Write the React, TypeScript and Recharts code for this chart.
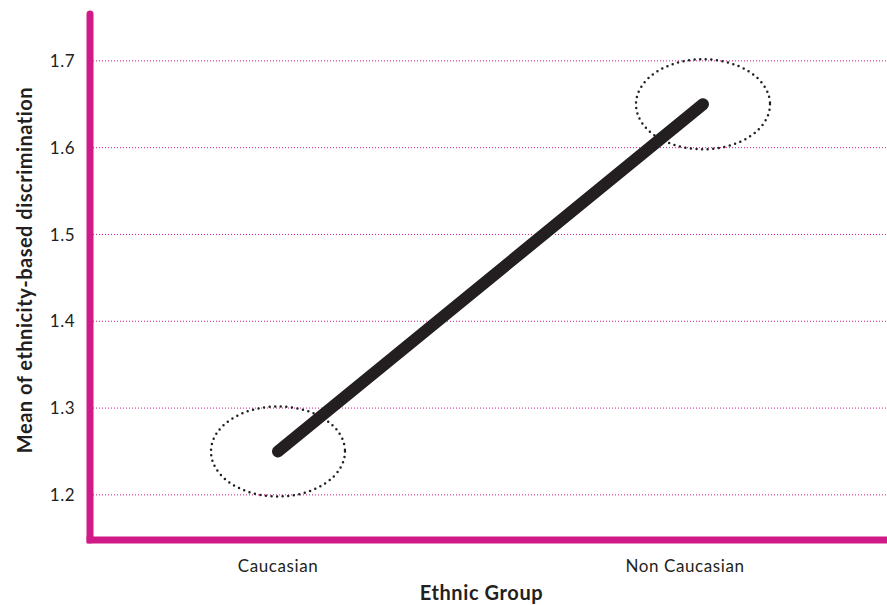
import React from "react";
import {
  LineChart,
  Line,
  XAxis,
  YAxis,
  ReferenceLine,
  Label,
} from "recharts";

const groups = ["Caucasian", "Non Caucasian"];
const means = [1.25, 1.65];
const yTicks = [1.2, 1.3, 1.4, 1.5, 1.6, 1.7];

const PINK = "#cf1a87";
const INK = "#231f20";
const FONT = "Lato, 'Open Sans', sans-serif";

const data = groups.map((g, i) => ({ group: g, mean: means[i] }));

// dotted ellipse drawn around each mean
function RingDot(props: any) {
  const { cx, cy, index } = props;
  if (cx == null || cy == null) return null;
  return (
    <ellipse
      key={`ring-${index}`}
      cx={cx}
      cy={cy}
      rx={67}
      ry={45}
      fill="none"
      stroke={INK}
      strokeWidth={2.5}
      strokeDasharray="0 5.6"
      strokeLinecap="round"
    />
  );
}

function GroupTick(props: any) {
  const { x, y, payload, index } = props;
  // second label sits a little left of its point in the original
  const shift = index === 1 ? -18 : 0;
  return (
    <text
      x={x + shift}
      y={y}
      dy="0.71em"
      textAnchor="middle"
      fontFamily={FONT}
      fontSize={17}
      letterSpacing={0.6}
      fill={INK}
    >
      {payload.value}
    </text>
  );
}

function YTitle(props: any) {
  const { viewBox } = props;
  const cy = viewBox.y + viewBox.height / 2 - 7;
  return (
    <text
      transform={`translate(${viewBox.x + 32},${cy}) rotate(-90)`}
      textAnchor="middle"
      fontFamily={FONT}
      fontWeight={700}
      fontSize={20}
      letterSpacing={0.5}
      fill={INK}
    >
      Mean of ethnicity-based discrimination
    </text>
  );
}

export default function App() {
  return (
    <div style={{ position: "absolute", left: 0, top: 0, background: "#fff" }}>
      <LineChart
        width={887}
        height={605}
        data={data}
        margin={{ top: 14, right: 0, left: 0, bottom: 0 }}
      >
        {yTicks.map((t) => (
          <ReferenceLine
            key={t}
            y={t}
            stroke={PINK}
            strokeDasharray="1 2"
            strokeWidth={1}
          />
        ))}
        <XAxis
          dataKey="group"
          height={65}
          tickLine={false}
          tickSize={0}
          tickMargin={20}
          padding={{ left: 188, right: 184 }}
          axisLine={{ stroke: PINK, strokeWidth: 7, strokeLinecap: "square" }}
          tick={<GroupTick />}
        >
          <Label
            value="Ethnic Group"
            position="insideBottom"
            offset={5}
            dx={-7}
            style={{
              fontFamily: FONT,
              fontWeight: 700,
              fontSize: 20,
              letterSpacing: 0.6,
              fill: INK,
            }}
          />
        </XAxis>
        <YAxis
          width={90}
          domain={[1.148, 1.754]}
          ticks={yTicks}
          allowDataOverflow
          tickLine={false}
          tickSize={0}
          tickMargin={15}
          axisLine={{ stroke: PINK, strokeWidth: 7, strokeLinecap: "round" }}
          tick={{ fontFamily: FONT, fontSize: 17, letterSpacing: 0.5, fill: INK }}
        >
          <Label content={<YTitle />} />
        </YAxis>
        <Line
          dataKey="mean"
          stroke={INK}
          strokeWidth={12}
          strokeLinecap="round"
          dot={<RingDot />}
          activeDot={false}
          isAnimationActive={false}
        />
      </LineChart>
    </div>
  );
}
